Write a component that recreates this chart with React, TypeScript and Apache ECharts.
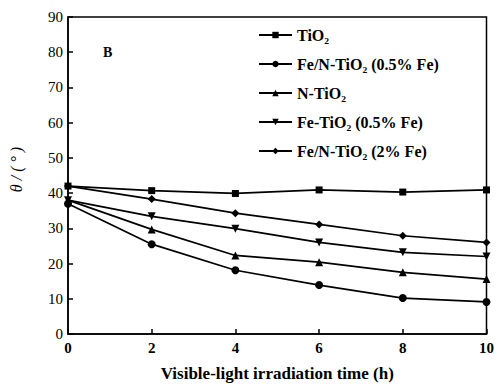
import React, { useEffect, useRef } from "react";
import * as echarts from "echarts";

const hours = [0, 2, 4, 6, 8, 10];
const tio2 = [42, 40.7, 39.9, 40.9, 40.3, 40.9];
const feN05 = [37, 25.5, 18.1, 13.9, 10.2, 9.1];
const nTio2 = [38, 29.7, 22.3, 20.4, 17.5, 15.6];
const fe05 = [38, 33.4, 29.9, 26.0, 23.2, 22.0];
const feN2 = [42, 38.3, 34.3, 31.1, 27.9, 26.0];

const seriesNames = [
  "TiO₂",
  "Fe/N-TiO₂ (0.5% Fe)",
  "N-TiO₂",
  "Fe-TiO₂ (0.5% Fe)",
  "Fe/N-TiO₂ (2% Fe)",
];
const seriesData = [tio2, feN05, nTio2, fe05, feN2];
const symbols = ["rect", "circle", "triangle", "triangle", "diamond"];
const rotations = [0, 0, 0, 180, 0];

const FONT = "Liberation Serif";

export default function App() {
  const ref = useRef<HTMLDivElement>(null);
  useEffect(() => {
    if (!ref.current) return;
    const chart = echarts.init(ref.current, undefined, { renderer: "svg" });
    chart.setOption({
      animation: false,
      backgroundColor: "#fff",
      grid: {
        left: 67,
        right: 10,
        top: 17,
        bottom: 47,
        show: true,
        borderColor: "#000",
        borderWidth: 1.5,
      },
      legend: {
        orient: "vertical",
        left: 253,
        top: 22,
        itemWidth: 33,
        itemHeight: 8,
        itemGap: 13,
        textStyle: { fontFamily: FONT, fontSize: 16, color: "#000", fontWeight: "bold" },
        data: seriesNames,
      },
      xAxis: {
        type: "value",
        min: 0,
        max: 10,
        interval: 2,
        name: "Visible-light irradiation time (h)",
        nameLocation: "middle",
        nameGap: 31,
        nameTextStyle: { fontFamily: FONT, fontSize: 17, color: "#000", fontWeight: "bold" },
        axisLine: { lineStyle: { color: "#000", width: 1.5 } },
        axisTick: { inside: true, length: 5, lineStyle: { color: "#000", width: 1.5 } },
        axisLabel: { fontFamily: FONT, fontSize: 15, color: "#000", margin: 6, fontWeight: "bold" },
        splitLine: { show: false },
      },
      yAxis: {
        type: "value",
        min: 0,
        max: 90,
        interval: 10,
        name: "θ / ( ° )",
        nameLocation: "middle",
        nameGap: 44,
        nameTextStyle: {
          fontFamily: FONT,
          fontSize: 16,
          color: "#000",
          fontStyle: "italic",
          padding: [0, 0, 0, 12],
        },
        axisLine: { lineStyle: { color: "#000", width: 1.5 } },
        axisTick: { inside: true, length: 5, lineStyle: { color: "#000", width: 1.5 } },
        axisLabel: { fontFamily: FONT, fontSize: 15, color: "#000", margin: 5 },
        splitLine: { show: false },
      },
      graphic: [
        {
          type: "text",
          left: 103,
          top: 45,
          style: { text: "B", font: `bold 14px "${FONT}"`, fill: "#000" },
        },
      ],
      series: seriesNames.map((name, i) => ({
        name,
        type: "line",
        data: hours.map((h, j) => [h, seriesData[i][j]]),
        symbol: symbols[i],
        symbolRotate: rotations[i],
        symbolSize: i === 0 ? 7 : 8,
        showAllSymbol: true,
        clip: false,
        lineStyle: { color: "#000", width: 1.7 },
        itemStyle: { color: "#000" },
      })),
    });
    return () => chart.dispose();
  }, []);
  return (
    <div
      ref={ref}
      style={{ position: "absolute", left: 0, top: 0, width: 497, height: 387 }}
    />
  );
}
